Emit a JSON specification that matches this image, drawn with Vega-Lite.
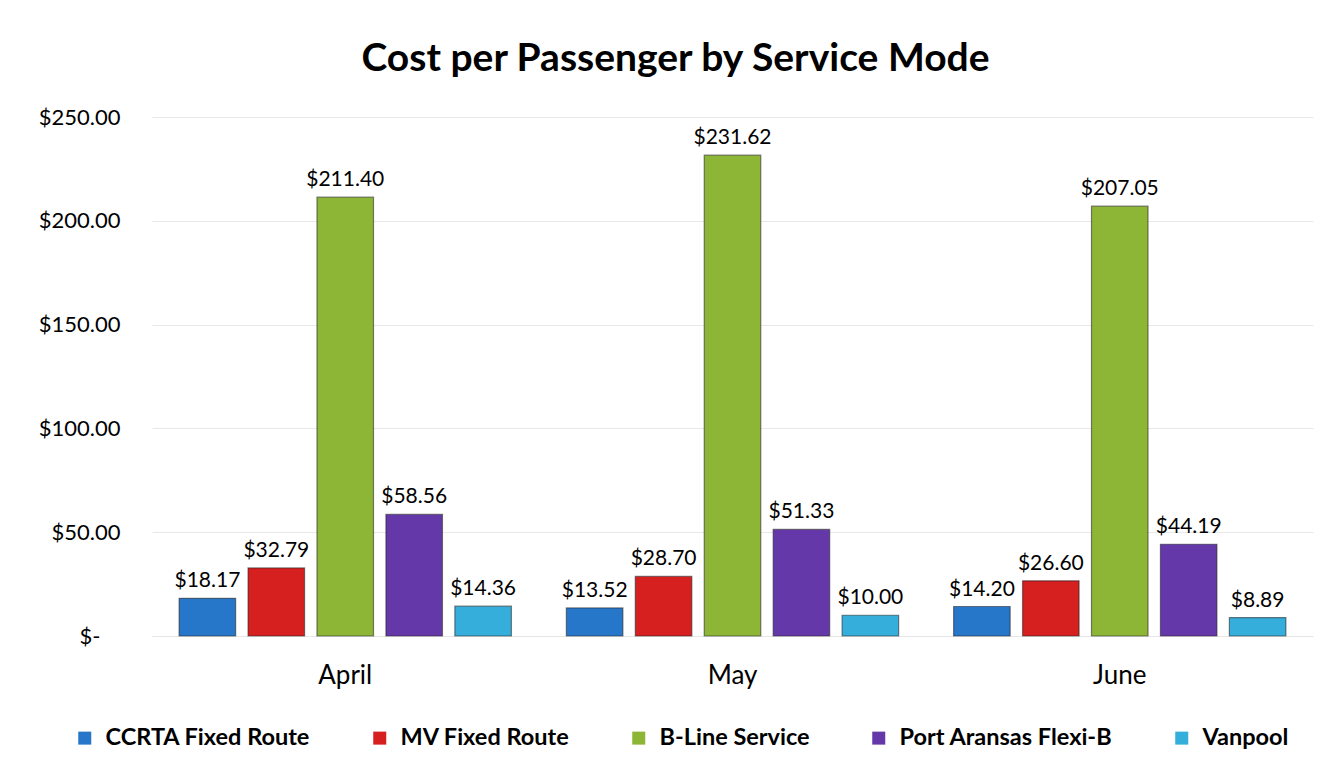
{
  "$schema": "https://vega.github.io/schema/vega-lite/v6.json",
  "width": 1161,
  "height": 519,
  "autosize": {"type": "none"},
  "padding": {"left": 152, "top": 117, "right": 31, "bottom": 139},
  "background": "white",
  "config": {"view": {"stroke": null}},
  "title": {
    "text": "Cost per Passenger by Service Mode",
    "font": "Lato",
    "fontSize": 39,
    "fontWeight": "bold",
    "color": "#000000",
    "anchor": "middle",
    "dx": -57,
    "offset": 27
  },
  "data": {
    "values": [
      {"month": "April", "mode": "CCRTA Fixed Route", "cost": 18.17},
      {"month": "April", "mode": "MV Fixed Route", "cost": 32.79},
      {"month": "April", "mode": "B-Line Service", "cost": 211.40},
      {"month": "April", "mode": "Port Aransas Flexi-B", "cost": 58.56},
      {"month": "April", "mode": "Vanpool", "cost": 14.36},
      {"month": "May", "mode": "CCRTA Fixed Route", "cost": 13.52},
      {"month": "May", "mode": "MV Fixed Route", "cost": 28.70},
      {"month": "May", "mode": "B-Line Service", "cost": 231.62},
      {"month": "May", "mode": "Port Aransas Flexi-B", "cost": 51.33},
      {"month": "May", "mode": "Vanpool", "cost": 10.00},
      {"month": "June", "mode": "CCRTA Fixed Route", "cost": 14.20},
      {"month": "June", "mode": "MV Fixed Route", "cost": 26.60},
      {"month": "June", "mode": "B-Line Service", "cost": 207.05},
      {"month": "June", "mode": "Port Aransas Flexi-B", "cost": 44.19},
      {"month": "June", "mode": "Vanpool", "cost": 8.89}
    ]
  },
  "encoding": {
    "x": {
      "field": "month",
      "type": "nominal",
      "sort": ["April", "May", "June"],
      "scale": {"paddingInner": 0.142, "paddingOuter": 0.07},
      "axis": {
        "title": null,
        "labelAngle": 0,
        "labelFont": "Lato",
        "labelFontSize": 26,
        "labelColor": "#000000",
        "labelPadding": 26,
        "ticks": false,
        "domain": true,
        "domainColor": "#e6e6e6",
        "grid": false
      }
    },
    "xOffset": {
      "field": "mode",
      "type": "nominal",
      "sort": ["CCRTA Fixed Route", "MV Fixed Route", "B-Line Service", "Port Aransas Flexi-B", "Vanpool"],
      "scale": {"paddingInner": 0.18, "paddingOuter": 0}
    },
    "y": {
      "field": "cost",
      "type": "quantitative",
      "scale": {"domain": [0, 250]},
      "axis": {
        "title": null,
        "values": [0, 50, 100, 150, 200, 250],
        "labelExpr": "datum.value == 0 ? '$-' : '$' + format(datum.value, '.2f')",
        "labelFont": "Lato",
        "labelFontSize": 22,
        "labelColor": "#000000",
        "labelPadding": {"condition": {"test": "datum.value == 0", "value": 52}, "value": 32},
        "ticks": false,
        "domain": false,
        "grid": true,
        "gridColor": "#e8e8e8",
        "gridWidth": 1
      }
    }
  },
  "layer": [
    {
      "mark": {"type": "bar", "stroke": "#222222", "strokeOpacity": 0.55, "strokeWidth": 1.2},
      "encoding": {
        "color": {
          "field": "mode",
          "type": "nominal",
          "sort": ["CCRTA Fixed Route", "MV Fixed Route", "B-Line Service", "Port Aransas Flexi-B", "Vanpool"],
          "scale": {
            "domain": ["CCRTA Fixed Route", "MV Fixed Route", "B-Line Service", "Port Aransas Flexi-B", "Vanpool"],
            "range": ["#2676C9", "#D61F1F", "#8DB536", "#6538AA", "#35AEDB"]
          },
          "legend": {
            "title": null,
            "orient": "none",
            "legendX": -79,
            "legendY": 609,
            "direction": "horizontal",
            "columns": 5,
            "columnPadding": 57,
            "symbolType": "square",
            "symbolSize": 169,
            "symbolStrokeWidth": 0,
            "labelFont": "Lato",
            "labelFontSize": 23.5,
            "labelFontWeight": "bold",
            "labelColor": "#000000",
            "labelOffset": 9,
            "labelLimit": 0
          }
        }
      }
    },
    {
      "mark": {"type": "text", "baseline": "bottom", "dy": -7, "font": "Lato", "fontSize": 21, "color": "#000000"},
      "encoding": {
        "text": {"field": "cost", "type": "quantitative", "format": "$.2f"}
      }
    }
  ]
}
